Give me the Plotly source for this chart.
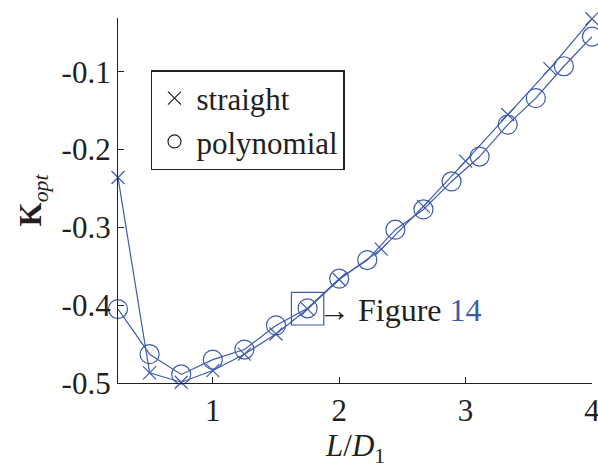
import plotly.graph_objects as go

# Data
x_straight = [0.25, 0.5, 0.75, 1.0, 1.25, 1.5, 1.75, 2.0, 2.3333, 2.6667, 3.0, 3.3333, 3.6667, 4.0]
k_straight = [-0.236, -0.487, -0.499, -0.484, -0.463, -0.437, -0.405, -0.367, -0.328, -0.273, -0.215, -0.155, -0.096, -0.032]

x_poly = [0.25, 0.5, 0.75, 1.0, 1.25, 1.5, 1.75, 2.0, 2.2222, 2.4444, 2.6667, 2.8889, 3.1111, 3.3333, 3.5556, 3.7778, 4.0]
k_poly = [-0.405, -0.463, -0.489, -0.470, -0.457, -0.426, -0.404, -0.366, -0.342, -0.303, -0.277, -0.241, -0.209, -0.168, -0.134, -0.093, -0.055]

x_ticks = [1, 2, 3, 4]
y_ticks = [-0.5, -0.4, -0.3, -0.2, -0.1]
y_ticklabels = ["-0.5", "-0.4", "-0.3", "-0.2", "-0.1"]

BLUE = "#3D5BA9"
INK = "#231F20"
FONT = "Liberation Serif, Times New Roman, serif"
FS = 31

fig = go.Figure()
fig.add_trace(go.Scatter(
    x=x_straight, y=k_straight, mode="lines+markers", showlegend=False,
    line=dict(color=BLUE, width=1.2),
    marker=dict(symbol="x-thin-open", size=13, color=BLUE, line=dict(color=BLUE, width=1.2)),
    cliponaxis=False))
fig.add_trace(go.Scatter(
    x=x_poly, y=k_poly, mode="lines+markers", showlegend=False,
    line=dict(color=BLUE, width=1.2),
    marker=dict(symbol="circle-open", size=19, color=BLUE, line=dict(color=BLUE, width=1.2)),
    cliponaxis=False))
# legend entries (markers only, black)
fig.add_trace(go.Scatter(
    x=[None], y=[None], mode="markers", name="straight",
    marker=dict(symbol="x-thin-open", size=13, color=INK, line=dict(color=INK, width=1.2))))
fig.add_trace(go.Scatter(
    x=[None], y=[None], mode="markers", name="polynomial",
    marker=dict(symbol="circle-open", size=13, color=INK, line=dict(color=INK, width=1.2))))

# highlight box around point at L/D1 = 1.75
fig.add_shape(type="rect", x0=1.622, x1=1.878, y0=-0.4255, y1=-0.3835,
              line=dict(color=BLUE, width=1.2))
fig.add_annotation(x=1.875, y=-0.406, xref="x", yref="y", xanchor="left", yanchor="middle",
                   showarrow=False, xshift=-7,
                   text="→ Figure <span style='color:%s'>14</span>" % BLUE,
                   font=dict(family=FONT, size=32, color=INK))

# x-axis title as annotation (placed below tick labels)
fig.add_annotation(x=0.5, y=0, xref="paper", yref="paper", xanchor="center", yanchor="top",
                   yshift=-43, showarrow=False,
                   text="<i>L</i>/<i>D</i><sub>1</sub>",
                   font=dict(family=FONT, size=FS, color=INK))

fig.update_layout(
    width=598, height=468,
    margin=dict(l=118, r=6, t=18, b=85, autoexpand=False),
    paper_bgcolor="white", plot_bgcolor="white",
    font=dict(family=FONT, size=FS, color=INK),
    legend=dict(x=0.0696, y=0.8575, xanchor="left", yanchor="top",
                bordercolor=INK, borderwidth=1.5, bgcolor="white",
                font=dict(family=FONT, size=FS, color=INK),
                itemwidth=34, tracegroupgap=0),
    xaxis=dict(range=[0.25, 4.0001], tickvals=x_ticks, ticks="inside", ticklen=6,
               tickcolor=INK, showline=True, linecolor=INK, linewidth=1.2,
               showgrid=False, zeroline=False, ticklabeloverflow="allow",
               automargin=False,
               tickfont=dict(family=FONT, size=FS, color=INK)),
    yaxis=dict(range=[-0.5, -0.031], tickvals=y_ticks, ticktext=y_ticklabels,
               ticks="inside", ticklen=6, tickcolor=INK, showline=True,
               linecolor=INK, linewidth=1.2, showgrid=False, zeroline=False,
               automargin=False,
               tickfont=dict(family=FONT, size=FS, color=INK),
               title=dict(text="<b>K</b><sub><i>opt</i></sub>", standoff=10,
                          font=dict(family=FONT, size=FS, color=INK))),
)

fig.write_html("out.html")
